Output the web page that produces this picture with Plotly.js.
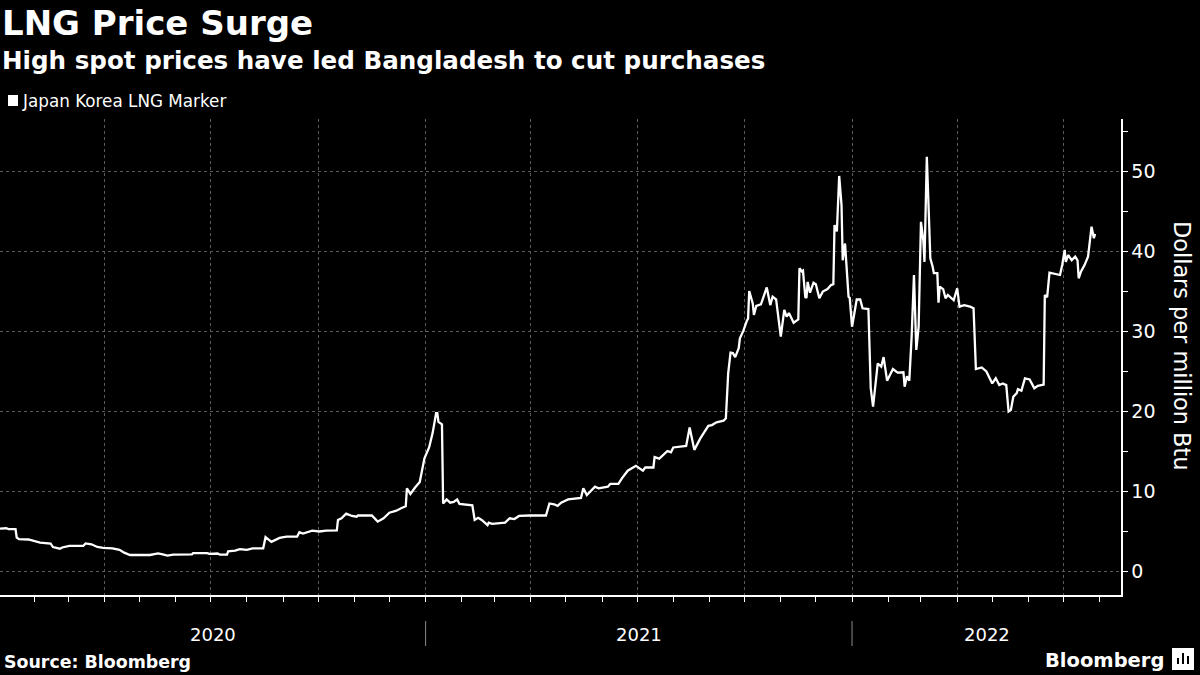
<!DOCTYPE html>
<html>
<head>
<meta charset="utf-8">
<script src="https://cdn.plot.ly/plotly-3.0.1.min.js"></script>
<style>
  html, body { margin: 0; padding: 0; background: #000; }
  #chart { width: 1200px; height: 675px; }
</style>
</head>
<body>
<div id="chart"></div>
<script>
// ---- Data: Japan Korea LNG Marker, dollars per million Btu ----
const dates2020 = [
  '2020-01-02','2020-01-08','2020-01-10','2020-01-16','2020-01-17','2020-01-19','2020-01-27','2020-01-31',
  '2020-02-06','2020-02-15','2020-02-17','2020-02-23','2020-02-25',
  '2020-03-02','2020-03-14','2020-03-16','2020-03-21','2020-03-26','2020-03-31',
  '2020-04-08','2020-04-14','2020-04-18','2020-04-23',
  '2020-05-10','2020-05-17','2020-05-21','2020-05-25','2020-05-30',
  '2020-06-15','2020-06-16','2020-06-28','2020-06-30',
  '2020-07-07','2020-07-09','2020-07-15','2020-07-16','2020-07-22','2020-07-26',
  '2020-08-01','2020-08-06','2020-08-15','2020-08-17','2020-08-22','2020-08-29',
  '2020-09-04','2020-09-13','2020-09-15','2020-09-18','2020-09-26',
  '2020-10-02','2020-10-08','2020-10-17','2020-10-18','2020-10-21','2020-10-25','2020-10-30',
  '2020-11-03','2020-11-04','2020-11-16','2020-11-21','2020-11-26',
  '2020-12-01','2020-12-07','2020-12-11','2020-12-15','2020-12-16','2020-12-19','2020-12-23','2020-12-27','2020-12-31'
];
const values2020 = [
  5.35, 5.4, 5.3, 5.3, 4.25, 4.05, 4.0, 3.85,
  3.6, 3.5, 3.05, 2.85, 3.0,
  3.19, 3.2, 3.5, 3.4, 3.06, 2.95,
  2.9, 2.7, 2.35, 2.06,
  2.06, 2.27, 2.15, 1.98, 2.1,
  2.15, 2.3, 2.3, 2.2,
  2.25, 2.1, 2.1, 2.52, 2.6, 2.8,
  2.7, 2.9, 2.9, 4.3, 3.7, 4.2,
  4.35, 4.35, 4.9, 4.75, 5.1,
  5.0, 5.1, 5.15, 6.44, 6.65, 7.23, 6.94,
  6.85, 7.0, 7.0, 6.23, 6.65,
  7.35, 7.6, 7.9, 8.15, 10.4, 9.7, 10.5, 11.2, 14.15
];
const dates2021 = [
  '2021-01-04','2021-01-07','2021-01-10','2021-01-11','2021-01-12','2021-01-15','2021-01-16','2021-01-19','2021-01-22','2021-01-25','2021-01-28','2021-01-30',
  '2021-02-10','2021-02-12','2021-02-15','2021-02-18','2021-02-20','2021-02-23','2021-02-24','2021-02-27',
  '2021-03-10','2021-03-14','2021-03-18','2021-03-22','2021-03-31',
  '2021-04-14','2021-04-17','2021-04-21','2021-04-24','2021-04-27',
  '2021-05-03','2021-05-14','2021-05-16','2021-05-19','2021-05-26','2021-05-29',
  '2021-06-06','2021-06-08','2021-06-15','2021-06-18','2021-06-23','2021-06-30',
  '2021-07-06','2021-07-08','2021-07-15','2021-07-16','2021-07-20','2021-07-23','2021-07-27','2021-07-30',
  '2021-08-01','2021-08-12','2021-08-15','2021-08-19','2021-08-24','2021-08-31',
  '2021-09-03','2021-09-07','2021-09-13','2021-09-15','2021-09-17','2021-09-19','2021-09-21','2021-09-23','2021-09-26','2021-09-27','2021-09-30',
  '2021-10-03','2021-10-04','2021-10-05','2021-10-08','2021-10-09','2021-10-11','2021-10-15','2021-10-18','2021-10-20','2021-10-23','2021-10-25','2021-10-28','2021-10-31',
  '2021-11-01','2021-11-04','2021-11-06','2021-11-08','2021-11-12','2021-11-16','2021-11-17','2021-11-19','2021-11-20','2021-11-22','2021-11-23','2021-11-24','2021-11-26','2021-11-29',
  '2021-12-01','2021-12-04','2021-12-07','2021-12-11','2021-12-14','2021-12-16','2021-12-17','2021-12-19','2021-12-21','2021-12-23','2021-12-24','2021-12-26','2021-12-29','2021-12-30'
];
const values2021 = [
  15.5, 17.3, 19.8, 19.8, 18.7, 18.4, 8.5, 9.0, 8.6, 8.7, 9.0, 8.44,
  8.27, 6.44, 6.7, 6.44, 6.2, 5.8, 6.1, 5.95,
  6.1, 6.65, 6.55, 6.94, 7.0,
  7.0, 8.5, 8.4, 8.2, 8.6,
  9.0, 9.2, 10.4, 9.56, 10.6, 10.4,
  10.6, 10.94, 10.94, 11.65, 12.6, 13.2,
  12.6, 13.0, 13.0, 14.3, 14.1, 14.5, 15.06, 14.9,
  15.5, 15.7, 18.0, 15.2, 16.6, 18.2,
  18.3, 18.65, 18.85, 19.15, 24.8, 27.35, 27.3, 26.8, 27.9, 29.15, 30.1,
  31.35, 31.6, 35.06, 33.5, 32.06, 33.2, 33.4, 34.56, 35.5, 33.3, 34.35, 34.0, 30.6,
  29.35, 32.7, 31.85, 32.3, 31.1, 31.5, 37.9, 37.5, 37.6, 34.3, 34.2, 36.2, 34.85, 36.1,
  35.9, 34.15, 35.0, 35.3, 35.8, 35.9, 43.3, 42.5, 49.44, 45.8, 38.9, 41.0, 34.35, 34.2
];
const dates2022 = [
  '2022-01-01','2022-01-05','2022-01-08','2022-01-10','2022-01-15','2022-01-17','2022-01-19','2022-01-23','2022-01-26','2022-01-28','2022-01-31',
  '2022-02-05','2022-02-09','2022-02-14','2022-02-15','2022-02-17','2022-02-19','2022-02-21','2022-02-23','2022-02-25','2022-02-27',
  '2022-03-01','2022-03-03','2022-03-04','2022-03-06','2022-03-08','2022-03-09','2022-03-11','2022-03-12','2022-03-15','2022-03-16','2022-03-17','2022-03-20','2022-03-22','2022-03-24','2022-03-29',
  '2022-04-01','2022-04-03','2022-04-07','2022-04-12','2022-04-15','2022-04-17','2022-04-22','2022-04-26',
  '2022-05-01','2022-05-04','2022-05-07','2022-05-10','2022-05-13','2022-05-15','2022-05-17','2022-05-19','2022-05-22','2022-05-23','2022-05-26','2022-05-29',
  '2022-06-02','2022-06-06','2022-06-09','2022-06-14','2022-06-15','2022-06-17','2022-06-19','2022-06-28','2022-06-30',
  '2022-07-02','2022-07-03','2022-07-05','2022-07-08','2022-07-11','2022-07-13','2022-07-14','2022-07-16','2022-07-19','2022-07-22','2022-07-25','2022-07-26','2022-07-27','2022-07-28'
];
const values2022 = [
  30.6, 34.0, 34.0, 32.9, 32.8, 22.9, 20.6, 26.0, 25.6, 26.8, 23.85,
  25.3, 24.85, 24.9, 23.1, 24.4, 23.85, 29.35, 37.06, 27.7, 30.6,
  43.7, 41.4, 38.7, 51.85, 43.5, 39.15, 38.1, 37.3, 37.3, 33.6, 35.6, 35.3, 34.15, 34.56, 33.9,
  35.4, 33.1, 33.3, 33.1, 32.9, 25.3, 25.5, 25.0,
  23.5, 24.15, 23.3, 23.5, 23.3, 20.0, 20.2, 21.85, 22.3, 22.8, 22.6, 24.15,
  24.0, 22.9, 23.2, 23.35, 34.56, 34.3, 37.35, 37.06, 38.4,
  40.2, 38.7, 39.56, 38.9, 39.35, 38.9, 36.65, 37.5, 38.3, 39.35, 43.1, 42.06, 41.65, 42.2
];
const seriesName = 'Japan Korea LNG Marker';
const yearLabels = ['2020', '2021', '2022'];
const yearBoundaries = ['2021-01-01', '2022-01-01'];
const xRange = ['2020-01-02 17:00', '2022-08-19 05:00'];
const yRange = [-2.94, 56.56];

const dates = dates2020.concat(dates2021, dates2022);
const values = values2020.concat(values2021, values2022);

// ---- Layout helpers ----
const W = 1200, H = 675;
const M = { l: 0, r: 79, t: 119, b: 80 };
const PW = W - M.l - M.r, PH = H - M.t - M.b;
const px = x => (x - M.l) / PW;          // pixel x -> paper x
const py = y => (H - M.b - y) / PH;      // pixel y -> paper y

const FONT = 'DejaVu Sans, Arial, sans-serif';
const GRID = '#5a5a5a';

// year label centres: middle of the visible part of each year
function toMs(s) { return new Date(s.replace(' ', 'T') + 'Z').getTime(); }
function msToStr(ms) { return new Date(ms).toISOString().slice(0, 19).replace('T', ' '); }
const yearAnn = yearLabels.map(y => {
  const a = Math.max(toMs(y + '-01-01 00:00'), toMs(xRange[0]));
  const b = Math.min(toMs((+y + 1) + '-01-01 00:00'), toMs(xRange[1]));
  return {
    x: msToStr((a + b) / 2), xref: 'x', y: py(634), yref: 'paper',
    text: y, showarrow: false, xanchor: 'center', yanchor: 'middle',
    font: { family: FONT, size: 18, color: '#ffffff' }
  };
});

const annotations = [
  { x: 0, xref: 'paper', xshift: 0, y: py(23), yref: 'paper', text: '<b>LNG Price Surge</b>',
    showarrow: false, xanchor: 'left', yanchor: 'middle', font: { family: FONT, size: 34, color: '#ffffff' } },
  { x: 0, xref: 'paper', xshift: 0, y: py(60), yref: 'paper', text: '<b>High spot prices have led Bangladesh to cut purchases</b>',
    showarrow: false, xanchor: 'left', yanchor: 'middle', font: { family: FONT, size: 24.6, color: '#ffffff' } },
  { x: px(20), xref: 'paper', y: py(101), yref: 'paper', text: seriesName,
    showarrow: false, xanchor: 'left', yanchor: 'middle', font: { family: FONT, size: 16.8, color: '#ffffff' } },
  { x: px(1182), xref: 'paper', y: py(345), yref: 'paper', text: 'Dollars per million Btu', textangle: 90,
    showarrow: false, xanchor: 'center', yanchor: 'middle', font: { family: FONT, size: 22.4, color: '#ffffff' } },
  { x: 0, xref: 'paper', xshift: 2, y: py(662), yref: 'paper', text: '<b>Source: Bloomberg</b>',
    showarrow: false, xanchor: 'left', yanchor: 'middle', font: { family: FONT, size: 17.4, color: '#ffffff' } },
  { x: px(1166), xref: 'paper', y: py(660), yref: 'paper', text: '<b>Bloomberg</b>',
    showarrow: false, xanchor: 'right', yanchor: 'middle', font: { family: FONT, size: 19.5, color: '#ffffff' } }
].concat(yearAnn);

const shapes = [
  // legend swatch
  { type: 'rect', xref: 'paper', yref: 'paper', x0: px(8), x1: px(18), y0: py(106), y1: py(95),
    fillcolor: '#ffffff', line: { width: 0 } },
  // Bloomberg logo glyph
  { type: 'rect', xref: 'paper', yref: 'paper', x0: px(1172), x1: px(1194), y0: py(670), y1: py(648),
    fillcolor: '#ffffff', line: { width: 0 } },
  { type: 'rect', xref: 'paper', yref: 'paper', x0: px(1177), x1: px(1179), y0: py(664), y1: py(658),
    fillcolor: '#000000', line: { width: 0 } },
  { type: 'rect', xref: 'paper', yref: 'paper', x0: px(1182), x1: px(1184), y0: py(664), y1: py(653),
    fillcolor: '#000000', line: { width: 0 } },
  { type: 'rect', xref: 'paper', yref: 'paper', x0: px(1187), x1: px(1189), y0: py(664), y1: py(656),
    fillcolor: '#000000', line: { width: 0 } }
].concat(yearBoundaries.map(d => ({
  type: 'line', xref: 'x', yref: 'paper', x0: d, x1: d, y0: py(621), y1: py(646),
  line: { color: '#8a8a8a', width: 1 }
})));

const trace = {
  x: dates, y: values, type: 'scatter', mode: 'lines', name: seriesName,
  line: { color: '#ffffff', width: 2.3 }, hoverinfo: 'x+y'
};

const layout = {
  width: W, height: H, margin: M,
  paper_bgcolor: '#000000', plot_bgcolor: '#000000',
  showlegend: false,
  font: { family: FONT, color: '#ffffff' },
  xaxis: {
    type: 'date', range: xRange, fixedrange: true,
    showgrid: true, gridcolor: GRID, griddash: 'dot', gridwidth: 1,
    tick0: '2020-01-01', dtick: 'M3',
    ticks: 'outside', ticklen: 5, tickcolor: '#ffffff', tickwidth: 1,
    showticklabels: false,
    showline: true, linecolor: '#ffffff', linewidth: 1.5, zeroline: false,
    minor: { tick0: '2020-01-01', dtick: 'M1', ticks: 'outside', ticklen: 5, tickcolor: '#ffffff', tickwidth: 1, showgrid: false }
  },
  yaxis: {
    side: 'right', range: yRange, fixedrange: true,
    tick0: 0, dtick: 10,
    showgrid: true, gridcolor: GRID, griddash: 'dot', gridwidth: 1,
    ticks: 'outside', ticklen: 5, tickcolor: '#ffffff', tickwidth: 1,
    tickfont: { family: FONT, size: 19, color: '#ffffff' },
    showline: true, linecolor: '#ffffff', linewidth: 1.5, zeroline: false,
    minor: { tick0: 5, dtick: 10, ticks: 'outside', ticklen: 5, tickcolor: '#ffffff', tickwidth: 1, showgrid: false }
  },
  annotations: annotations,
  shapes: shapes
};

Plotly.newPlot('chart', [trace], layout, { displayModeBar: false, staticPlot: true });
</script>
</body>
</html>
